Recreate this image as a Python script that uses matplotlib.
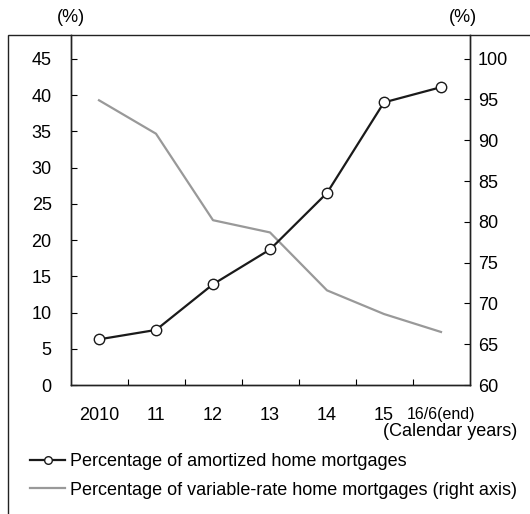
import matplotlib
matplotlib.use("Agg")
import matplotlib.pyplot as plt
from matplotlib.patches import Rectangle
from matplotlib.lines import Line2D

plt.rcParams['font.family'] = ['Liberation Sans', 'DejaVu Sans']

# categories (calendar years)
years = ["2010", "11", "12", "13", "14", "15", "16/6(end)"]
# percentage of amortized home mortgages (left axis)
amortized = [6.3, 7.6, 13.9, 18.7, 26.5, 39.0, 41.1]
# percentage of variable-rate home mortgages (right axis)
variable = [94.9, 90.8, 80.2, 78.7, 71.6, 68.7, 66.5]

name1 = 'Percentage of amortized home mortgages'
name2 = 'Percentage of variable-rate home mortgages (right axis)'

W, H = 530, 514
fig = plt.figure(figsize=(W / 100, H / 100), dpi=100)
ax = fig.add_axes([70.5 / W, 1 - 385 / H, 399 / W, 350 / H])
ax2 = ax.twinx()

x = list(range(len(years)))
ax.plot(x, amortized, color='#1a1a1a', lw=1.6, marker='o', ms=7.5,
        mfc='white', mec='#1a1a1a', mew=1.0, zorder=3)
ax2.plot(x, variable, color='#999999', lw=1.6)
ax.set_zorder(ax2.get_zorder() + 1)
ax.patch.set_visible(False)

ax.set_xlim(-0.5, 6.5)
ax.set_ylim(0, 48.3)
ax2.set_ylim(60, 102.9)
ax.set_yticks(range(0, 50, 5))
ax2.set_yticks(range(60, 105, 5))

# ticks at category boundaries, labels at centers
ax.set_xticks([i + 0.5 for i in range(6)])
ax.set_xticklabels([])
ax.set_xticks(x, minor=True)
ax.set_xticklabels(years, minor=True)
ax.tick_params(axis='x', which='major', direction='in', length=4, width=0.8)
ax.tick_params(axis='x', which='minor', length=0, pad=16, labelsize=13)
for lab in ax.get_xticklabels(minor=True):
    if lab.get_text() == "16/6(end)":
        lab.set_fontsize(11.5)
        lab.set_x(6.07)
ax.tick_params(axis='y', direction='in', length=4, width=0.8, pad=13.5, labelsize=13)
ax2.tick_params(axis='y', direction='in', length=4, width=0.8, pad=6, labelsize=13)

for a in (ax, ax2):
    a.spines['top'].set_visible(False)
    for s in ('left', 'right', 'bottom'):
        a.spines[s].set_color('#222222')
        a.spines[s].set_linewidth(1.0)

# outer frame
fig.add_artist(Rectangle((8 / W, -0.05), 1.0, 1.05 - 35 / H, transform=fig.transFigure,
                         fill=False, ec='#222222', lw=1.0, clip_on=False))

fig.text(71 / W, 1 - 17 / H, "(%)", ha='center', va='center', fontsize=13)
fig.text(463 / W, 1 - 17 / H, "(%)", ha='center', va='center', fontsize=13)
fig.text(517 / W, 1 - 432 / H, "(Calendar years)", ha='right', va='center', fontsize=13)

h1 = Line2D([], [], color='#1a1a1a', lw=1.6, marker='o', ms=5.5,
            mfc='white', mec='#1a1a1a', mew=1.0)
h2 = Line2D([], [], color='#999999', lw=1.6)
fig.legend(handles=[h1, h2], labels=[name1, name2], loc='upper left',
           bbox_to_anchor=(30 / W, 1 - 453 / H),
           frameon=False, fontsize=13, handlelength=1.95, handletextpad=0.25,
           labelspacing=0.65, borderpad=0, borderaxespad=0)

fig.savefig("out.png", dpi=100)
